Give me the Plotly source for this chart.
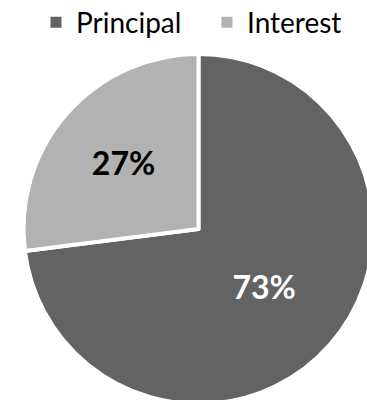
import plotly.graph_objects as go

# Loan repayment split
labels = ["Principal", "Interest"]
values = [73, 27]
colors = ["#636363", "#b2b2b2"]
label_colors = ["white", "black"]

FONT = "Lato"
W, H = 380, 410

fig = go.Figure()

fig.add_trace(
    go.Pie(
        labels=labels,
        values=values,
        sort=False,
        direction="clockwise",
        rotation=0,
        marker=dict(colors=colors, line=dict(color="white", width=4)),
        texttemplate="%{percent:.0%}",
        textposition="inside",
        insidetextorientation="horizontal",
        insidetextfont=dict(family=FONT, size=32, color=label_colors, weight="bold"),
        hoverinfo="label+percent",
        showlegend=False,
        domain=dict(x=[23.5 / W, 373.5 / W], y=[1 - 404 / H, 1 - 54 / H]),
    )
)

# square legend keys for each slice
for name, col in zip(labels, colors):
    fig.add_trace(
        go.Scatter(
            x=[None],
            y=[None],
            mode="markers",
            name=name,
            marker=dict(symbol="square", size=11, color=col),
            hoverinfo="skip",
        )
    )

fig.update_layout(
    width=W,
    height=H,
    margin=dict(l=0, r=0, t=0, b=0, autoexpand=False),
    paper_bgcolor="white",
    plot_bgcolor="white",
    xaxis=dict(visible=False),
    yaxis=dict(visible=False),
    showlegend=True,
    legend=dict(
        orientation="h",
        x=36 / W,
        xanchor="left",
        y=1.006,
        yanchor="top",
        font=dict(family=FONT, size=28, color="black"),
        itemwidth=30,
        entrywidth=126,
        entrywidthmode="pixels",
        traceorder="normal",
    ),
)

fig.write_html(
    "out.html",
    post_script="document.documentElement.style.overflow='hidden';document.body.style.overflow='hidden';",
)
